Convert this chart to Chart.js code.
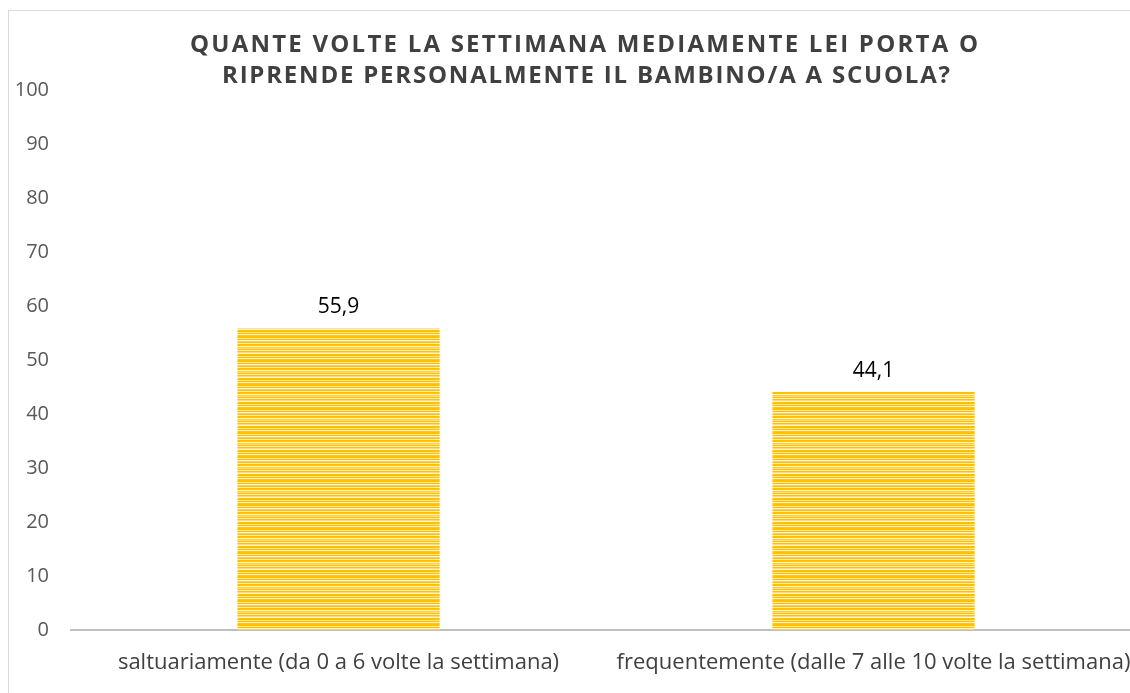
<!DOCTYPE html>
<html><head><meta charset="utf-8">
<script src="https://cdn.jsdelivr.net/npm/chart.js@4/dist/chart.umd.min.js"></script>
<style>
html,body{margin:0;padding:0;background:#fff;overflow:hidden;width:1130px;height:693px;}
#frame{position:absolute;left:8px;top:10px;width:1200px;height:800px;border:1px solid #d9d9d9;}
#wrap{position:absolute;left:0;top:0;width:1150px;height:693px;}
</style></head>
<body>
<div id="frame"></div>
<div id="wrap"><canvas id="c" width="1150" height="693"></canvas></div>
<script>
const titleLines = ["QUANTE VOLTE LA SETTIMANA MEDIAMENTE LEI PORTA O", "RIPRENDE PERSONALMENTE IL BAMBINO/A A SCUOLA?"];
const categories = ["saltuariamente (da 0 a 6 volte la settimana)", "frequentemente (dalle 7 alle 10 volte la settimana)"];
const values = [55.9, 44.1];
const yTicks = [0, 10, 20, 30, 40, 50, 60, 70, 80, 90, 100];

function makePattern(){
  const rows = ['#FFC000','#FFC000','#FFE9A6','#FFC000','#FFF4D6','#FFD34F','#FFC000','#FFEDB8','#FFC000','#FFC000','#FFF6DD','#FFCB2E','#FFE08A','#FFC000','#FFF0C4','#FFC000','#FFD965','#FFF6DD','#FFC000','#FFC000','#FFE599','#FFC000','#FFF2CC','#FFC71A'];
  const p = document.createElement('canvas');
  p.width = 8; p.height = rows.length;
  const g = p.getContext('2d');
  rows.forEach((c,i)=>{g.fillStyle=c; g.fillRect(0,i,8,1);});
  return document.getElementById('c').getContext('2d').createPattern(p,'repeat');
}

const titlePlugin = {
  id:'customTitle',
  afterDraw(chart){
    const ctx = chart.ctx;
    ctx.save();
    ctx.font = 'bold 24px "Open Sans"';
    ctx.fillStyle = '#404040';
    ctx.textBaseline = 'middle';
    const targets = [{w:788, cx:584, y:45},{w:728, cx:586, y:76}];
    titleLines.forEach((t,i)=>{
      ctx.letterSpacing = '0px';
      const w0 = ctx.measureText(t).width;
      const sp = (targets[i].w - w0)/(t.length-1);
      ctx.letterSpacing = sp + 'px';
      ctx.textAlign = 'left';
      ctx.fillText(t, targets[i].cx - targets[i].w/2, targets[i].y);
    });
    ctx.restore();
  }
};

const labelPlugin = {
  id:'valueLabels',
  afterDatasetsDraw(chart){
    const ctx = chart.ctx;
    const meta = chart.getDatasetMeta(0);
    ctx.save();
    ctx.font = '21px "Open Sans"';
    ctx.fillStyle = '#000';
    ctx.textAlign = 'center';
    ctx.textBaseline = 'middle';
    meta.data.forEach((bar,i)=>{
      ctx.fillText(values[i].toFixed(1).replace('.',','), bar.x, bar.y - 21);
    });
    ctx.restore();
  }
};

new Chart(document.getElementById('c'), {
  type:'bar',
  data:{labels:categories, datasets:[{data:values, backgroundColor:makePattern(), borderWidth:0, categoryPercentage:1, barPercentage:0.378}]},
  options:{
    responsive:false, animation:false,
    layout:{padding:{top:90, right:9, bottom:0, left:0}},
    plugins:{legend:{display:false}, tooltip:{enabled:false}, title:{display:false}},
    scales:{
      x:{
        grid:{display:false},
        border:{display:true, color:'#bfbfbf', width:2},
        ticks:{color:'#404040', font:{family:'"Open Sans"', size:22}, padding:12, maxRotation:0},
        afterFit(s){s.height = 63;}
      },
      y:{
        min:0, max:100,
        afterBuildTicks(s){s.ticks = yTicks.map(v=>({value:v}));},
        grid:{display:false},
        border:{display:false},
        ticks:{color:'#595959', font:{family:'"Open Sans"', size:20}, padding:14},
        afterFit(s){s.width = 71;}
      }
    }
  },
  plugins:[titlePlugin, labelPlugin]
});
</script>
</body></html>
